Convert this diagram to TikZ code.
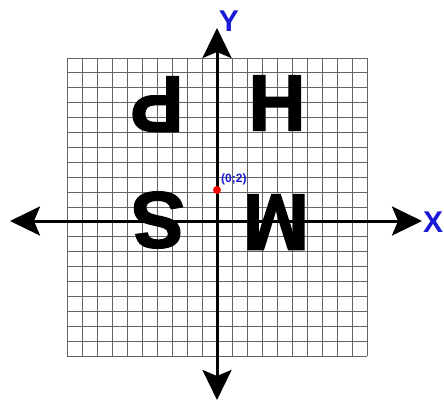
\documentclass[tikz,border=0pt]{standalone}
\usepackage{fontspec}
\setmainfont{Liberation Sans}
\newfontfamily\heavyfont[FakeBold=1.8]{Liberation Sans Bold}
\usetikzlibrary{arrows.meta}
\definecolor{lblblue}{RGB}{25,25,215}
\definecolor{gridgray}{RGB}{100,100,100}
\begin{document}
\begin{tikzpicture}[x=1pt,y=-1pt,
  gridline/.style={draw=gridgray,line width=0.9pt},
  axisline/.style={line width=3pt,
    {Stealth[length=30pt,width=29pt,inset=6pt]}-{Stealth[length=30pt,width=29pt,inset=6pt]}},
  bigletter/.style={font=\fontsize{80}{80}\heavyfont,inner sep=0pt,text=black},
  axislabel/.style={font=\fontsize{30}{30}\selectfont\bfseries,inner sep=0pt,text=lblblue},
  ptlabel/.style={font=\fontsize{12}{12}\selectfont\bfseries,inner sep=0pt,text=lblblue}]
\useasboundingbox (0,0) rectangle (444,410);
\fill[white] (0,0) rectangle (444,410);
% grid
\foreach \i in {0,...,20}{
  \draw[gridline] ({67+15*\i},58) -- ({67+15*\i},356);
  \draw[gridline] (67,{58+14.9*\i}) -- (367,{58+14.9*\i});
}
% letters
\node[bigletter,rotate=180] (P) at (157,104) {P};
\node[bigletter] (H) at (277,103) {H};
\node[bigletter,rotate=180] (S) at (158,220) {S};
\node[bigletter,rotate=180] (M) at (276,222) {M};
% axes
\coordinate (xl) at (10,221);
\coordinate (xr) at (422,221);
\coordinate (yt) at (217,28);
\coordinate (yb) at (217,400);
\draw[axisline] (xl) -- (xr);
\draw[axisline] (yb) -- (yt);
\node[axislabel] (Y) at (229,21) {Y};
\node[axislabel] (X) at (433,222) {X};
% point
\fill[red] (217,190) circle (4pt);
\node[ptlabel,anchor=west] (pt) at (221,179.5) {(0;2)};
\end{tikzpicture}
\end{document}
